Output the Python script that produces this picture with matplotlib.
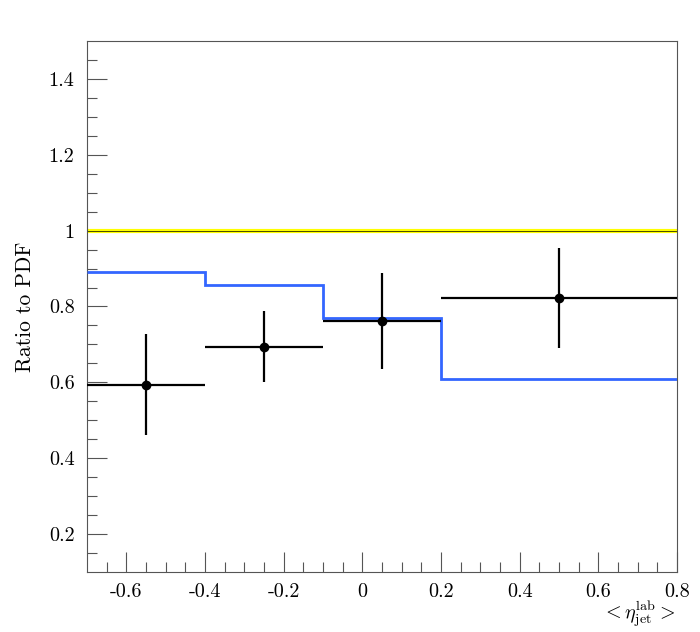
import matplotlib
matplotlib.use("Agg")
import matplotlib.pyplot as plt
import numpy as np

# Data
bin_edges = [-0.7, -0.4, -0.1, 0.2, 0.8]
data_x = [-0.55, -0.25, 0.05, 0.5]
data_ratio = [0.594, 0.694, 0.761, 0.823]
data_err = [0.134, 0.094, 0.127, 0.132]
pdf_ratio = [0.890, 0.858, 0.769, 0.610]
ref_level = 1.0

x_ticks = [-0.6, -0.4, -0.2, 0.0, 0.2, 0.4, 0.6, 0.8]
x_ticklabels = ["-0.6", "-0.4", "-0.2", "0", "0.2", "0.4", "0.6", "0.8"]
y_ticks = [0.2, 0.4, 0.6, 0.8, 1.0, 1.2, 1.4]
y_ticklabels = ["0.2", "0.4", "0.6", "0.8", "1", "1.2", "1.4"]

plt.rcParams['font.family'] = 'serif'
plt.rcParams['font.serif'] = ['cmr10', 'DejaVu Serif']
plt.rcParams['mathtext.fontset'] = 'cm'
plt.rcParams['axes.unicode_minus'] = False

fig = plt.figure(figsize=(7.0, 6.32), dpi=100)
ax = fig.add_axes([87/700, 60/632, 590/700, 531/632])

ax.set_xlim(-0.7, 0.8)
ax.set_ylim(0.1, 1.5)

# reference line at 1
ax.axhline(ref_level, color='#ffff00', lw=3.0, zorder=2)
ax.axhline(ref_level, color='black', lw=0.5, zorder=2)

# PDF ratio step histogram
ax.stairs(pdf_ratio, bin_edges, baseline=None, color='#3366ff', lw=2.0, zorder=3)

# data points
edges = np.array(bin_edges)
xc = np.array(data_x)
xerr = np.vstack([xc - edges[:-1], edges[1:] - xc])
ax.errorbar(data_x, data_ratio, yerr=data_err, xerr=xerr, fmt='o', color='black',
            ms=6, elinewidth=1.6, capsize=0, zorder=4)

# ticks
ax.set_xticks(x_ticks)
ax.set_xticklabels(x_ticklabels)
ax.set_yticks(y_ticks)
ax.set_yticklabels(y_ticklabels)
ax.set_xticks(np.arange(-0.65, 0.8, 0.05), minor=True)
ax.set_yticks(np.arange(0.15, 1.5, 0.05), minor=True)
ax.tick_params(which='both', direction='in', top=False, right=False, color='#555555', width=0.8)
ax.tick_params(which='major', length=14.4, labelsize=14.5, pad=8)
ax.tick_params(which='minor', length=7.2)
ax.tick_params(axis='y', which='major', pad=9)
for s in ax.spines.values():
    s.set_color('#555555')
    s.set_linewidth(0.8)

ax.set_ylabel('Ratio to PDF', fontsize=15.5, labelpad=10)
fig.text(676/700, 3/632, r'$<\eta_{\rm jet}^{\rm lab}>$', fontsize=14.5,
         ha='right', va='bottom')

fig.savefig('out.png', dpi=100)
